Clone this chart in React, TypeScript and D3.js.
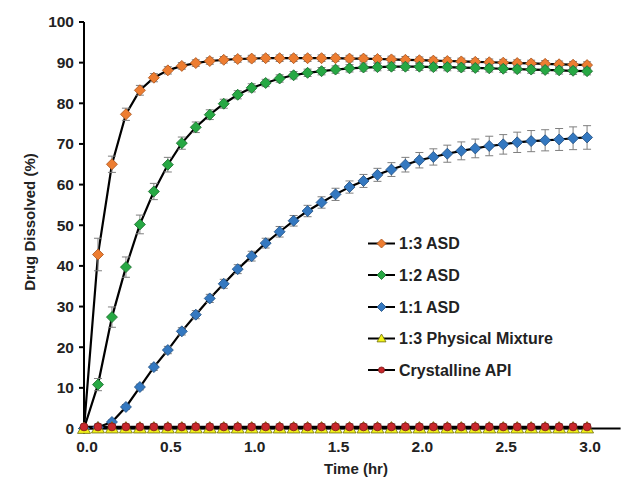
import React from "react";
import * as d3 from "d3";

const times: number[] = Array.from({ length: 37 }, (_, i) => (i * 5) / 60);

const seriesNames = ["1:3 ASD", "1:2 ASD", "1:1 ASD", "1:3 Physical Mixture", "Crystalline API"];

const asd13 = [0, 42.8, 65.0, 77.3, 83.2, 86.3, 88.1, 89.2, 89.9, 90.4, 90.7, 90.9, 91.0, 91.1, 91.1, 91.1, 91.1, 91.1, 91.1, 91.0, 91.0, 90.9, 90.8, 90.7, 90.6, 90.5, 90.4, 90.3, 90.2, 90.1, 90.0, 89.9, 89.8, 89.7, 89.6, 89.5, 89.4];
const asd13Err = [0, 4.0, 2.0, 1.5, 1.2, 1.0, 0.9, 0.8, 0.8, 0.8, 0.8, 0.8, 0.8, 0.8, 0.8, 0.8, 0.8, 0.8, 0.8, 0.8, 0.8, 0.8, 0.8, 0.8, 0.8, 0.8, 0.8, 0.8, 0.8, 0.8, 0.8, 0.8, 0.8, 0.8, 0.8, 0.8, 0.8];

const asd12 = [0, 10.8, 27.4, 39.7, 50.2, 58.3, 64.9, 70.2, 74.1, 77.2, 79.9, 82.1, 83.8, 85.0, 86.1, 86.9, 87.5, 87.9, 88.3, 88.6, 88.8, 88.9, 89.0, 89.0, 89.0, 88.9, 88.9, 88.8, 88.7, 88.6, 88.5, 88.4, 88.3, 88.2, 88.1, 88.0, 87.9];
const asd12Err = [0, 1.5, 2.5, 2.5, 2.3, 2.0, 1.8, 1.5, 1.3, 1.2, 1.1, 1.0, 1.0, 0.9, 0.9, 0.9, 0.9, 0.9, 0.9, 0.9, 0.9, 0.9, 0.9, 0.9, 0.9, 0.9, 0.9, 0.9, 0.9, 0.9, 0.9, 0.9, 0.9, 0.9, 0.9, 0.9, 0.9];

const asd11 = [0, 0.3, 1.6, 5.3, 10.2, 15.1, 19.3, 23.9, 28.0, 32.0, 35.6, 39.2, 42.4, 45.6, 48.4, 51.1, 53.5, 55.6, 57.6, 59.4, 60.9, 62.4, 63.7, 64.9, 66.0, 66.8, 67.6, 68.3, 68.9, 69.5, 69.9, 70.4, 70.7, 70.9, 71.1, 71.4, 71.6];
const asd11Err = [0, 0.3, 0.5, 0.6, 0.7, 0.8, 0.9, 0.9, 1.0, 1.0, 1.1, 1.1, 1.2, 1.2, 1.3, 1.3, 1.4, 1.4, 1.5, 1.5, 1.6, 1.6, 1.7, 1.8, 1.9, 2.0, 2.1, 2.2, 2.3, 2.4, 2.4, 2.5, 2.6, 2.6, 2.7, 2.8, 2.9];

const pm13 = [0, 0.1, 0.1, 0.1, 0.1, 0.1, 0.1, 0.1, 0.1, 0.1, 0.1, 0.1, 0.1, 0.1, 0.1, 0.1, 0.1, 0.1, 0.1, 0.1, 0.1, 0.1, 0.1, 0.1, 0.1, 0.1, 0.1, 0.1, 0.1, 0.1, 0.1, 0.1, 0.1, 0.1, 0.1, 0.1, 0.1];
const pm13Err = [0, 1.0, 1.0, 1.0, 1.0, 1.0, 1.0, 1.0, 1.0, 1.0, 1.0, 1.0, 1.0, 1.0, 1.0, 1.0, 1.0, 1.0, 1.0, 1.0, 1.0, 1.0, 1.0, 1.0, 1.0, 1.0, 1.0, 1.0, 1.0, 1.0, 1.0, 1.0, 1.0, 1.0, 1.0, 1.0, 1.0];

const crystalline = [0.4, 0.4, 0.4, 0.4, 0.4, 0.4, 0.4, 0.4, 0.4, 0.4, 0.4, 0.4, 0.4, 0.4, 0.4, 0.4, 0.4, 0.4, 0.4, 0.4, 0.4, 0.4, 0.4, 0.4, 0.4, 0.4, 0.4, 0.4, 0.4, 0.4, 0.4, 0.4, 0.4, 0.4, 0.4, 0.4, 0.4];
const crystallineErr = [0, 0.2, 0.2, 0.2, 0.2, 0.2, 0.2, 0.2, 0.2, 0.2, 0.2, 0.2, 0.2, 0.2, 0.2, 0.2, 0.2, 0.2, 0.2, 0.2, 0.2, 0.2, 0.2, 0.2, 0.2, 0.2, 0.2, 0.2, 0.2, 0.2, 0.2, 0.2, 0.2, 0.2, 0.2, 0.2, 0.2];

const yTicks = [0, 10, 20, 30, 40, 50, 60, 70, 80, 90, 100];
const xTicks = [0, 0.5, 1.0, 1.5, 2.0, 2.5, 3.0];

type Shape = "diamond" | "triangle" | "circle";
const seriesData = [
  { name: seriesNames[0], values: asd13, errs: asd13Err, fill: "#ED7D31", stroke: "#A8521A", shape: "diamond" as Shape },
  { name: seriesNames[1], values: asd12, errs: asd12Err, fill: "#27A844", stroke: "#17692A", shape: "diamond" as Shape },
  { name: seriesNames[2], values: asd11, errs: asd11Err, fill: "#3478C0", stroke: "#1F4E80", shape: "diamond" as Shape },
  { name: seriesNames[3], values: pm13, errs: pm13Err, fill: "#F2F21A", stroke: "#6B6B10", shape: "triangle" as Shape },
  { name: seriesNames[4], values: crystalline, errs: crystallineErr, fill: "#C8282C", stroke: "#7A1A1A", shape: "circle" as Shape },
];

const FONT = "'Liberation Sans', Arial, Helvetica, sans-serif";

function Marker({ shape, cx, cy, fill, stroke, s }: { shape: Shape; cx: number; cy: number; fill: string; stroke: string; s: number }) {
  if (shape === "diamond") {
    const p = `M${cx},${cy - s} L${cx + s},${cy} L${cx},${cy + s} L${cx - s},${cy} Z`;
    return <path d={p} fill={fill} stroke={stroke} strokeWidth={0.8} />;
  }
  if (shape === "triangle") {
    const p = `M${cx},${cy - s} L${cx + s},${cy + s * 0.75} L${cx - s},${cy + s * 0.75} Z`;
    return <path d={p} fill={fill} stroke={stroke} strokeWidth={0.8} />;
  }
  return <circle cx={cx} cy={cy} r={s * 0.8} fill={fill} stroke={stroke} strokeWidth={0.8} />;
}

export default function App() {
  const width = 644;
  const height = 483;
  const x = d3.scaleLinear().domain([0, 3.2]).range([84, 620.6]);
  const y = d3.scaleLinear().domain([0, 100]).range([428.5, 22]);
  const line = d3
    .line<number>()
    .x((_, i) => x(times[i]))
    .y((v) => y(v));

  const legendY = [243.5, 275, 307, 338.5, 370];

  return (
    <svg width={width} height={height} style={{ position: "absolute", left: 0, top: 0, background: "#fff" }} fontFamily={FONT}>
      <rect x={0} y={0} width={width} height={height} fill="#fff" />
      {/* axes */}
      <line x1={x(0)} x2={x(0)} y1={y(100)} y2={y(0)} stroke="#000" strokeWidth={2} />
      <line x1={x(0)} x2={x(3.2)} y1={y(0)} y2={y(0)} stroke="#000" strokeWidth={2} />
      {yTicks.map((t) => (
        <g key={"yt" + t}>
          <line x1={x(0) - 5} x2={x(0)} y1={y(t)} y2={y(t)} stroke="#000" strokeWidth={2} />
          <text x={x(0) - 10} y={y(t)} dy="0.35em" textAnchor="end" fontSize={15.5} fontWeight="bold" fill="#222">
            {t}
          </text>
        </g>
      ))}
      {xTicks.map((t) => (
        <text key={"xt" + t} x={x(t) + 3} y={452} textAnchor="middle" fontSize={15.5} fontWeight="bold" fill="#222">
          {d3.format(".1f")(t)}
        </text>
      ))}
      <text x={356} y={474} textAnchor="middle" fontSize={15} fontWeight="bold" fill="#222">
        Time (hr)
      </text>
      <text transform={`translate(35,222) rotate(-90)`} textAnchor="middle" fontSize={15} fontWeight="bold" fill="#222">
        Drug Dissolved (%)
      </text>
      {/* lines */}
      {seriesData.map((s) => (
        <path key={"l" + s.name} d={line(s.values) || ""} fill="none" stroke="#000" strokeWidth={2.2} />
      ))}
      {/* error bars + markers */}
      {seriesData.map((s) => (
        <g key={"m" + s.name}>
          {s.values.map((v, i) => {
            const cx = x(times[i]);
            const e = s.errs[i];
            if (e <= 0) return null;
            const y1 = y(v + e);
            const y2 = y(v - e);
            return (
              <g key={i} stroke="#7f7f7f" strokeWidth={1}>
                <line x1={cx} x2={cx} y1={y1} y2={y2} />
                <line x1={cx - 4} x2={cx + 4} y1={y1} y2={y1} />
                <line x1={cx - 4} x2={cx + 4} y1={y2} y2={y2} />
              </g>
            );
          })}
          {s.values.map((v, i) => (
            <Marker
              key={i}
              shape={s.shape}
              cx={x(times[i])}
              cy={y(v)}
              fill={s.fill}
              stroke={s.stroke}
              s={s.shape === "circle" ? 5 : s.shape === "triangle" ? 6.5 : 5.5}
            />
          ))}
        </g>
      ))}
      {/* legend */}
      {seriesData.map((s, i) => (
        <g key={"lg" + s.name}>
          <line x1={368} x2={395} y1={legendY[i]} y2={legendY[i]} stroke="#000" strokeWidth={2} />
          <Marker shape={s.shape} cx={381.5} cy={legendY[i]} fill={s.fill} stroke={s.stroke} s={s.shape === "circle" ? 3.8 : 4.5} />
          <text x={399} y={legendY[i]} dy="0.36em" fontSize={16} fontWeight="bold" fill="#222">
            {s.name}
          </text>
        </g>
      ))}
    </svg>
  );
}
